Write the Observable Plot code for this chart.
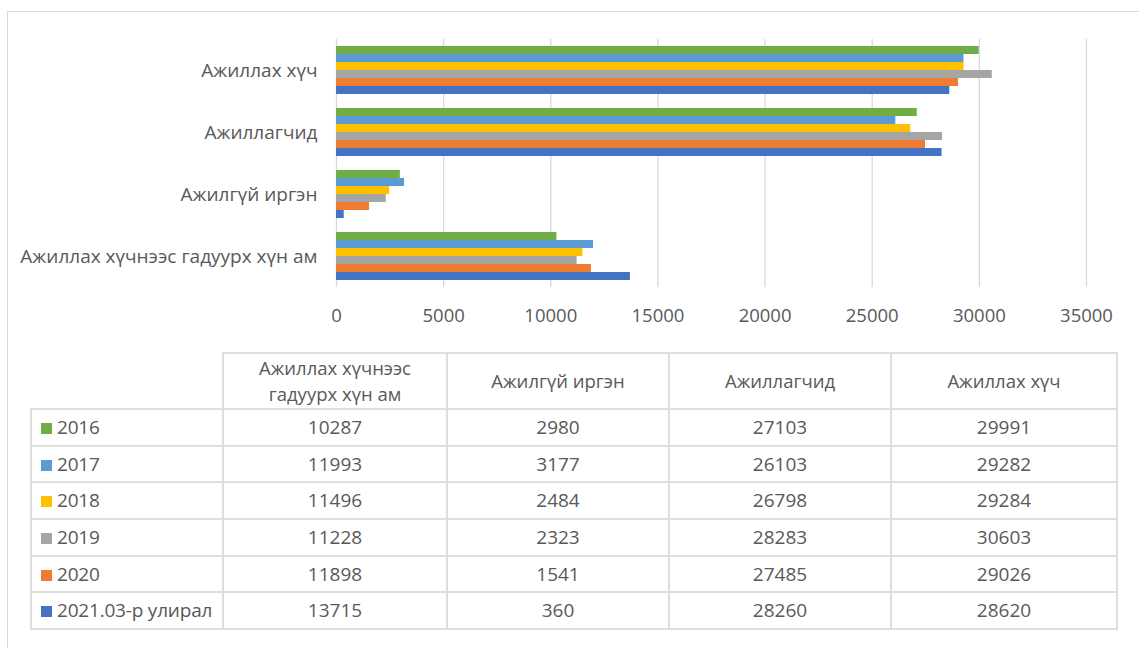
<!DOCTYPE html>
<html><head><meta charset="utf-8">
<script src="https://cdn.jsdelivr.net/npm/d3@7"></script>
<script src="https://cdn.jsdelivr.net/npm/@observablehq/plot@0.6"></script>
<style>
body{margin:0;background:#fff;font-family:"Open Sans",sans-serif;color:#595959}
#wrap{position:relative;width:1139px;height:648px;overflow:hidden;background:#fff}
#frame{position:absolute;left:7px;top:11px;width:1300px;height:800px;border-left:1.5px solid #d9d9d9;border-top:1.5px solid #d9d9d9}
#chart{position:absolute;left:0;top:0}
table{position:absolute;left:30px;top:352px;border-collapse:collapse;font-size:19px;color:#595959;table-layout:fixed}
td,th{border:2px solid #dedede;text-align:center;font-weight:normal;padding:0;line-height:1.2}
th{font-size:18.5px;line-height:1.4}
th.blank{border:none}
tr.head{height:56px}
tr.row{height:36.7px}
td.lab{text-align:left;padding-left:9px;white-space:nowrap;letter-spacing:-0.2px}
.sw{display:inline-block;width:11px;height:11px;margin-right:5px;vertical-align:0px}
</style></head>
<body>
<div id="wrap"><div id="frame"></div><div id="chart"></div><div id="tbl"></div></div>
<script>
// Categories (table column order)
const categories = ["Ажиллах хүчнээс гадуурх хүн ам", "Ажилгүй иргэн", "Ажиллагчид", "Ажиллах хүч"];
// Series (table row order)
const years = ["2016", "2017", "2018", "2019", "2020", "2021.03-р улирал"];
const v2016 = [10287, 2980, 27103, 29991];
const v2017 = [11993, 3177, 26103, 29282];
const v2018 = [11496, 2484, 26798, 29284];
const v2019 = [11228, 2323, 28283, 30603];
const v2020 = [11898, 1541, 27485, 29026];
const v2021 = [13715, 360, 28260, 28620];
const xTicks = [0, 5000, 10000, 15000, 20000, 25000, 30000, 35000];
const colors = ["#70AD47", "#5B9BD5", "#FFC000", "#A5A5A5", "#ED7D31", "#4472C4"];

const series = [v2016, v2017, v2018, v2019, v2020, v2021];
const data = [];
categories.forEach((c, i) => years.forEach((y, j) => data.push({category: c, year: y, value: series[j][i]})));

const chart = Plot.plot({
  width: 1139, height: 340,
  marginLeft: 336, marginRight: 53, marginTop: 38, marginBottom: 52,
  style: {fontFamily: "Open Sans", fontSize: "19px", color: "#595959", background: "transparent"},
  x: {domain: [0, 35000], label: null},
  fy: {domain: categories.slice().reverse(), paddingInner: 0, paddingOuter: 0, label: null, axis: null},
  y: {domain: years, paddingInner: 0, paddingOuter: 0.75, axis: null},
  color: {domain: years, range: colors},
  marks: [
    Plot.gridX(xTicks, {stroke: "#d9d9d9", strokeOpacity: 1, strokeWidth: 1.3}),
    Plot.barX(data, {fy: "category", y: "year", x: "value", fill: "year"}),
    Plot.axisX(xTicks, {tickSize: 0, tickPadding: 21, tickFormat: d => String(d), label: null, fill: "#595959", fontSize: 18.5}),
    Plot.axisFy({anchor: "left", tickSize: 0, tickPadding: 19, label: null, fill: "#595959", fontSize: 19})
  ]
});
document.getElementById("chart").appendChild(chart);

// data table below chart
const widths = [192, 224, 222, 222, 226];
let html = "<table><colgroup>" + widths.map(w => `<col style="width:${w}px">`).join("") + "</colgroup>";
html += `<tr class="head"><th class="blank"></th>` + categories.map(c => `<th style="padding:0 30px">${c}</th>`).join("") + "</tr>";
years.forEach((y, j) => {
  html += `<tr class="row"><td class="lab"><span class="sw" style="background:${colors[j]}"></span>${y}</td>` +
    series[j].map(v => `<td>${v}</td>`).join("") + "</tr>";
});
html += "</table>";
document.getElementById("tbl").innerHTML = html;
</script>
</body></html>
